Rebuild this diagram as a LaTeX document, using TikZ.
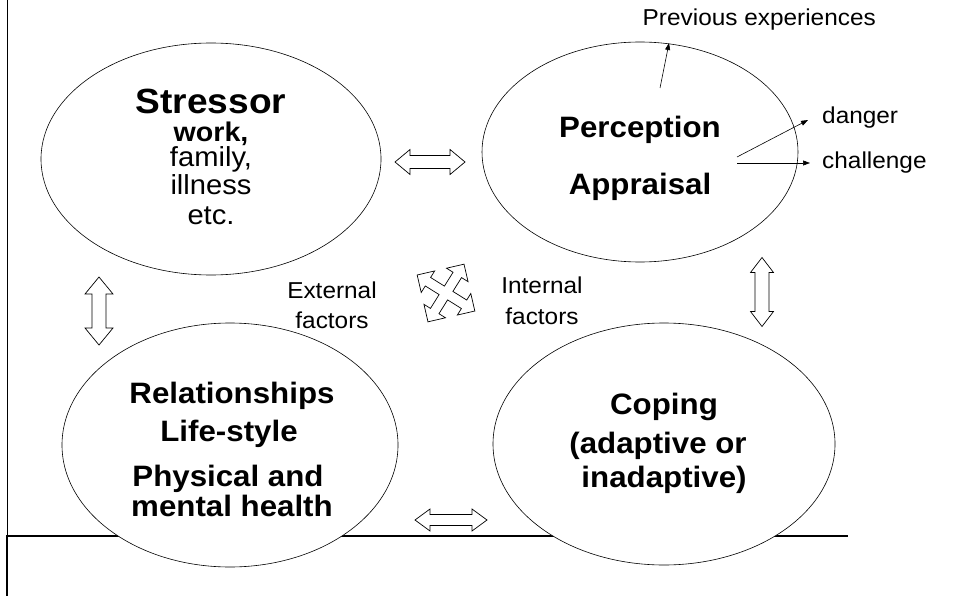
\documentclass[tikz,border=0pt]{standalone}
\usepackage{fontspec}
\setmainfont{Liberation Sans}[FakeStretch=1.06]
\usetikzlibrary{shapes.geometric,arrows.meta,calc}

\tikzset{
  bubble/.style={draw, ellipse, line width=0.6pt, inner sep=0pt, fill=white},
  head/.style={font=\fontsize{29.5}{31}\selectfont\bfseries, anchor=base, inner sep=0pt},
  bighead/.style={font=\fontsize{35}{37}\selectfont\bfseries, anchor=base, inner sep=0pt},
  body/.style={font=\fontsize{27.5}{29}\selectfont, anchor=base, inner sep=0pt},
  bodybold/.style={font=\fontsize{27}{29}\selectfont\bfseries, anchor=base, inner sep=0pt},
  label/.style={font=\fontsize{23}{25}\selectfont, anchor=base, inner sep=0pt},
  thin/.style={line width=0.6pt, -{Triangle[length=7pt,width=5pt]}},
  outline/.style={draw, line width=0.7pt, fill=white, line join=miter},
  pics/dblarrow/.style n args={4}{code={
    % #1 length, #2 head width, #3 shaft width, #4 head length
    \draw[outline] (-#1/2,0) -- (-#1/2+#4,#2/2) -- (-#1/2+#4,#3/2)
      -- (#1/2-#4,#3/2) -- (#1/2-#4,#2/2) -- (#1/2,0) -- (#1/2-#4,-#2/2)
      -- (#1/2-#4,-#3/2) -- (-#1/2+#4,-#3/2) -- (-#1/2+#4,-#2/2) -- cycle;
  }},
  pics/quadarrow/.style n args={4}{code={
    % #1 tip distance, #2 head half width, #3 shaft half width, #4 head length
    \draw[outline]
      (#3,#3) -- (#1-#4,#3) -- (#1-#4,#2) -- (#1,0) -- (#1-#4,-#2) -- (#1-#4,-#3)
      -- (#3,-#3) -- (#3,-#1+#4) -- (#2,-#1+#4) -- (0,-#1) -- (-#2,-#1+#4) -- (-#3,-#1+#4)
      -- (-#3,-#3) -- (-#1+#4,-#3) -- (-#1+#4,-#2) -- (-#1,0) -- (-#1+#4,#2) -- (-#1+#4,#3)
      -- (-#3,#3) -- (-#3,#1-#4) -- (-#2,#1-#4) -- (0,#1) -- (#2,#1-#4) -- (#3,#1-#4) -- cycle;
  }},
}

\begin{document}
\begin{tikzpicture}[x=1pt, y=-1pt]
  \useasboundingbox (0,0) rectangle (955,596);
  \fill[white] (0,0) rectangle (955,596);

  % frame lines
  \draw[line width=1pt] (7,0) -- (7,536);
  \draw[line width=2.2pt] (7,536) -- (7,596);
  \draw[line width=2pt] (6,536) -- (848,536);

  % the four ellipses
  \node[bubble, minimum width=340pt, minimum height=232pt] (stressor) at (211,159) {};
  \node[bubble, minimum width=316pt, minimum height=220pt] (percep) at (640,152) {};
  \node[bubble, minimum width=336pt, minimum height=244pt] (relat) at (230,445) {};
  \node[bubble, minimum width=342pt, minimum height=242pt] (coping) at (664,444) {};

  % Stressor text
  \node[bighead] (t1) at (211,114) {Stressor};
  \node[bodybold] (t2) at (211,142) {work,};
  \node[body] (t3) at (211,167) {family,};
  \node[body] (t4) at (211,195) {illness};
  \node[body] (t5) at (211,224) {etc.};

  % Perception text
  \node[head] (p1) at (640,138) {Perception};
  \node[head] (p2) at (640,194) {Appraisal};

  % Relationships text
  \node[head] (r1) at (232,403) {Relationships};
  \node[head] (r2) at (229,441) {Life-style};
  \node[head] (r3) at (228,486) {Physical and};
  \node[head] (r4) at (232,516) {mental health};

  % Coping text
  \node[head] (c1) at (664,414) {Coping};
  \node[head] (c2) at (658,453) {(adaptive or};
  \node[head] (c3) at (664,487) {inadaptive)};

  % factor labels
  \node[label] (ext1) at (332,298) {External};
  \node[label] (ext2) at (332,328) {factors};
  \node[label] (int1) at (542,293) {Internal};
  \node[label] (int2) at (542,324) {factors};

  % appraisal outcomes
  \node[label, anchor=base west] (danger) at (822,124) {danger};
  \node[label, anchor=base west] (chall) at (822,169) {challenge};
  \node[label, anchor=base east] (prev) at (876,26) {Previous experiences};

  \coordinate (pa) at (660,88);
  \coordinate (pb) at (669,43);
  \coordinate (da) at (737,157);
  \coordinate (db) at (808,120);
  \coordinate (ca) at (737,163);
  \coordinate (cb) at (810,163);
  \draw[thin] (pa) -- (pb);
  \draw[thin] (da) -- (db);
  \draw[thin] (ca) -- (cb);

  % block arrows between the ellipses
  \pic (ar1) at (430,162) {dblarrow={70}{25}{13}{15}};
  \pic[rotate=90] (ar2) at (99,311) {dblarrow={68}{28}{14}{17}};
  \pic[rotate=90] (ar3) at (762,292) {dblarrow={69}{23}{14}{15}};
  \pic (ar4) at (451,520) {dblarrow={72}{22}{11}{15}};
  \pic[rotate=58] (ar5) at (446,293) {quadarrow={34}{12.7}{5}{12.7}};
\end{tikzpicture}
\end{document}
